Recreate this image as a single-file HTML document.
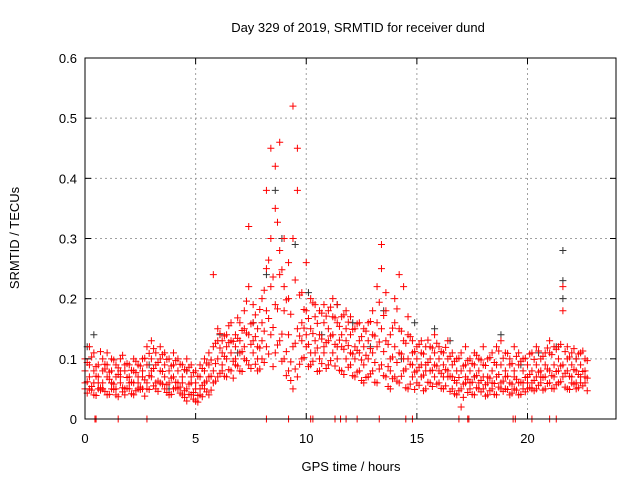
<!DOCTYPE html>
<html><head><meta charset="utf-8"><style>
body{margin:0;background:#fff}
svg{display:block;font-family:"Liberation Sans",sans-serif}
</style></head><body>
<svg id="chart" width="640" height="480" viewBox="0 0 640 480">
<rect width="640" height="480" fill="#fff"/>
<text x="358" y="32" font-size="13" text-anchor="middle">Day 329 of 2019, SRMTID for receiver dund</text>
<text transform="translate(19,238) rotate(-90)" font-size="13" text-anchor="middle">SRMTID / TECUs</text>
<text x="351" y="471" font-size="13" text-anchor="middle">GPS time / hours</text>
<g id="grid"></g>
<g id="marks"></g>
<rect x="85" y="58" width="531" height="361" fill="none" stroke="#000" stroke-width="1"/>
<g id="ticks"></g>
</svg>
<script>
const xTicks=[0,5,10,15,20];
const yTicks=[0,0.1,0.2,0.3,0.4,0.5,0.6];
const yTickLabels=["0","0.1","0.2","0.3","0.4","0.5","0.6"];
const hours=[0,0.2,0.4,0.6,0.8,1,1.2,1.4,1.6,1.8,2,2.2,2.4,2.6,2.8,3,3.2,3.4,3.6,3.8,4,4.2,4.4,4.6,4.8,5,5.2,5.4,5.6,5.8,6,6.2,6.4,6.6,6.8,7,7.2,7.4,7.6,7.8,8,8.2,8.4,8.6,8.8,9,9.2,9.4,9.6,9.8,10,10.2,10.4,10.6,10.8,11,11.2,11.4,11.6,11.8,12,12.2,12.4,12.6,12.8,13,13.2,13.4,13.6,13.8,14,14.2,14.4,14.6,14.8,15,15.2,15.4,15.6,15.8,16,16.2,16.4,16.6,16.8,17,17.2,17.4,17.6,17.8,18,18.2,18.4,18.6,18.8,19,19.2,19.4,19.6,19.8,20,20.2,20.4,20.6,20.8,21,21.2,21.4,21.6,21.8,22,22.2,22.4,22.6];
const redA=[.05,.07,.04,.06,.05,.04,.06,.05,.07,.05,.06,.04,.07,.05,.06,.07,.06,.08,.05,.06,.07,.05,.06,.05,.04,.03,.05,.06,.04,.06,.07,.09,.10,.08,.09,.11,.10,.09,.11,.08,.10,.12,.14,.11,.13,.10,.08,.05,.07,.10,.12,.09,.11,.10,.12,.09,.11,.12,.08,.10,.09,.07,.08,.06,.07,.08,.06,.09,.07,.05,.07,.06,.08,.05,.07,.06,.07,.05,.06,.07,.06,.05,.07,.05,.04,.05,.06,.05,.04,.06,.05,.04,.05,.04,.06,.05,.06,.05,.04,.06,.05,.06,.05,.06,.05,.06,.05,.06,.07,.05,.06,.05,.07,.06];
const redB=[.08,.12,.08,.09,.10,.07,.08,.09,.10,.08,.07,.08,.09,.08,.12,.10,.09,.10,.09,.10,.09,.08,.04,.08,.07,.06,.07,.08,.07,.08,.10,.11,.12,.13,.12,.13,.15,.14,.16,.12,.16,.18,.22,.19,.24,.18,.14,.12,.15,.16,.18,.15,.17,.14,.16,.15,.17,.16,.14,.15,.14,.12,.13,.12,.13,.14,.12,.15,.13,.10,.12,.11,.13,.10,.11,.10,.11,.09,.10,.11,.10,.09,.10,.09,.08,.08,.09,.08,.07,.08,.09,.07,.08,.07,.09,.08,.09,.07,.06,.08,.07,.08,.09,.08,.07,.08,.09,.08,.09,.08,.09,.08,.09,.08];
const redC=[.06,.05,.06,.05,.08,.09,.05,.07,.06,.04,.09,.06,.05,.10,.05,.08,.11,.06,.07,.04,.05,.10,.09,.03,.06,.08,.04,.05,.09,.12,.13,.08,.07,.11,.14,.08,.12,.22,.13,.15,.13,.25,.30,.35,.28,.22,.20,.30,.38,.21,.14,.20,.13,.18,.11,.13,.14,.10,.17,.13,.11,.15,.11,.09,.10,.11,.16,.25,.18,.14,.16,.15,.10,.14,.09,.08,.09,.12,.08,.09,.08,.11,.08,.07,.10,.02,.07,.10,.09,.05,.07,.10,.06,.09,.05,.07,.04,.08,.09,.05,.09,.05,.07,.10,.09,.11,.07,.10,.22,.10,.07,.10,.06,.10];
const redD=[.10,.09,.11,.07,.06,.11,.10,.04,.08,.09,.05,.10,.06,.07,.09,.13,.05,.12,.11,.08,.11,.06,.07,.10,.09,.05,.09,.10,.11,.24,.15,.13,.14,.16,.10,.16,.18,.32,.19,.10,.20,.38,.45,.42,.46,.30,.26,.52,.45,.13,.26,.11,.19,.08,.19,.18,.20,.19,.12,.18,.17,.10,.16,.15,.16,.18,.22,.29,.21,.08,.20,.24,.22,.17,.13,.12,.13,.08,.12,.14,.12,.07,.13,.11,.06,.11,.12,.06,.11,.10,.12,.06,.11,.12,.13,.11,.10,.12,.11,.10,.06,.11,.12,.07,.11,.13,.12,.12,.18,.12,.11,.06,.11,.07];
const hours2=[0.1,0.3,0.5,0.7,0.9,1.1,1.3,1.5,1.7,1.9,2.1,2.3,2.5,2.7,2.9,3.1,3.3,3.5,3.7,3.9,4.1,4.3,4.5,4.7,4.9,5.1,5.3,5.5,5.7,5.9,6.1,6.3,6.5,6.7,6.9,7.1,7.3,7.5,7.7,7.9,8.1,8.3,8.5,8.7,8.9,9.1,9.3,9.5,9.7,9.9,10.1,10.3,10.5,10.7,10.9,11.1,11.3,11.5,11.7,11.9,12.1,12.3,12.5,12.7,12.9,13.1,13.3,13.5,13.7,13.9,14.1,14.3,14.5,14.7,14.9,15.1,15.3,15.5,15.7,15.9,16.1,16.3,16.5,16.7,16.9,17.1,17.3,17.5,17.7,17.9,18.1,18.3,18.5,18.7,18.9,19.1,19.3,19.5,19.7,19.9,20.1,20.3,20.5,20.7,20.9,21.1,21.3,21.5,21.7,21.9,22.1,22.3,22.5,22.7];
const redE=[.062,.054,.071,.048,.083,.066,.058,.074,.052,.069,.061,.077,.049,.065,.072,.084,.063,.079,.057,.068,.061,.053,.047,.058,.044,.039,.056,.063,.071,.092,.118,.104,.127,.096,.134,.112,.143,.124,.137,.118,.146,.167,.152,.183,.141,.112,.095,.126,.138,.151,.124,.142,.118,.133,.127,.138,.124,.131,.116,.122,.108,.114,.098,.106,.117,.094,.128,.112,.087,.103,.094,.108,.083,.091,.078,.086,.073,.094,.081,.088,.076,.082,.071,.064,.069,.058,.066,.061,.072,.064,.057,.068,.059,.074,.063,.071,.058,.066,.061,.069,.074,.064,.078,.069,.083,.072,.079,.088,.076,.071,.082,.074,.079,.068];
const redF=[.094,.103,.087,.112,.091,.078,.098,.085,.106,.092,.081,.096,.088,.101,.109,.117,.094,.107,.099,.088,.097,.091,.082,.086,.077,.071,.084,.093,.098,.126,.142,.138,.155,.129,.168,.147,.196,.158,.173,.182,.214,.264,.236,.327,.248,.198,.174,.231,.206,.182,.167,.193,.159,.176,.171,.186,.168,.154,.173,.161,.149,.158,.137,.146,.162,.138,.194,.172,.124,.151,.183,.146,.126,.137,.112,.124,.108,.131,.118,.126,.112,.119,.104,.096,.101,.088,.097,.092,.106,.098,.089,.102,.094,.113,.101,.109,.092,.104,.096,.101,.108,.099,.113,.104,.118,.107,.116,.124,.112,.103,.117,.108,.113,.097];
const redG=[.043,.048,.039,.052,.046,.041,.049,.037,.045,.051,.042,.047,.053,.038,.049,.055,.046,.058,.044,.041,.052,.043,.036,.041,.033,.028,.037,.045,.048,.063,.076,.071,.082,.068,.088,.079,.097,.084,.091,.083,.094,.108,.087,.123,.096,.072,.064,.083,.091,.102,.087,.096,.079,.092,.084,.097,.088,.081,.074,.086,.072,.078,.064,.069,.075,.061,.083,.072,.054,.067,.063,.071,.052,.058,.049,.056,.047,.061,.054,.058,.051,.055,.046,.042,.047,.036,.044,.041,.052,.045,.038,.047,.041,.053,.046,.049,.043,.048,.041,.045,.052,.047,.056,.048,.059,.051,.057,.062,.053,.049,.058,.052,.055,.047];
const blackHours=[0.1,0.4,1.2,2.9,3.8,4.6,6.1,6.9,7.6,8.2,8.6,8.9,9.5,10.1,10.7,11.4,12.1,12.9,13.5,14.3,14.9,15.8,16.5,17.6,18.8,19.7,20.5,21.3,21.6,21.6,21.6,22.2];
const blackVals=[.12,.14,.06,.09,.05,.08,.14,.11,.16,.24,.38,.30,.29,.21,.14,.19,.16,.12,.18,.10,.16,.15,.13,.07,.14,.09,.11,.12,.28,.23,.20,.10];
const zeroHours=[0.45,0.5,1.5,2.8,8.2,9.2,10.2,10.3,11.3,11.55,11.8,12.3,13.3,14.5,14.8,16.9,17.3,17.35,19.35,19.45,20.2,21.0,21.3];
const NS='http://www.w3.org/2000/svg';
const X=h=>85+h*(531/24), Y=v=>419-v*(361/0.6);
const grid=document.getElementById('grid'),ticks=document.getElementById('ticks'),marks=document.getElementById('marks');
function ln(p,x1,y1,x2,y2,st,dash){const l=document.createElementNS(NS,'line');l.setAttribute('x1',x1);l.setAttribute('y1',y1);l.setAttribute('x2',x2);l.setAttribute('y2',y2);l.setAttribute('stroke',st);if(dash)l.setAttribute('stroke-dasharray',dash);p.appendChild(l);return l;}
function tx(p,x,y,s,anchor){const t=document.createElementNS(NS,'text');t.setAttribute('x',x);t.setAttribute('y',y);t.setAttribute('font-size','13');t.setAttribute('text-anchor',anchor);t.textContent=s;p.appendChild(t);return t;}
yTicks.forEach((v,i)=>{const y=Y(v);
 if(i>0&&i<yTicks.length-1){const g=ln(grid,85,y,616,y,'#a0a0a0','2,3');
 
 }
 ln(ticks,85,y,91,y,'#000');ln(ticks,616,y,610,y,'#000');
 const t=tx(ticks,77,y+5,yTickLabels[i],'end');
 
 });
xTicks.forEach(h=>{const x=X(h);
 if(h>0){const g=ln(grid,x,58,x,419,'#a0a0a0','2,3');
 
 }
 ln(ticks,x,419,x,413,'#000');ln(ticks,x,58,x,64,'#000');
 const t=tx(ticks,x,443,String(h),'middle');
 
 });
function cross(x,y,c,name){const p=document.createElementNS(NS,'path');p.setAttribute('d',`M${x-3.5} ${y}H${x+3.5}M${x} ${y-3.5}V${y+3.5}`);p.setAttribute('stroke',c);p.setAttribute('stroke-width','1');p.setAttribute('fill','none');
 
 
 marks.appendChild(p);}
blackHours.forEach((h,i)=>cross(X(h),Y(blackVals[i]),'#333','black-point'));
[redA,redB,redC,redD].forEach(s=>hours.forEach((h,i)=>{if(s[i]!==undefined)cross(X(h),Y(s[i]),'#ff0000','red-point');}));
[redE,redF,redG].forEach(s=>hours2.forEach((h,i)=>{if(s[i]!==undefined)cross(X(h),Y(s[i]),'#ff0000','red-point');}));
zeroHours.forEach(h=>cross(X(h),Y(0),'#ff0000','zero-point'));
</script>
</body></html>
